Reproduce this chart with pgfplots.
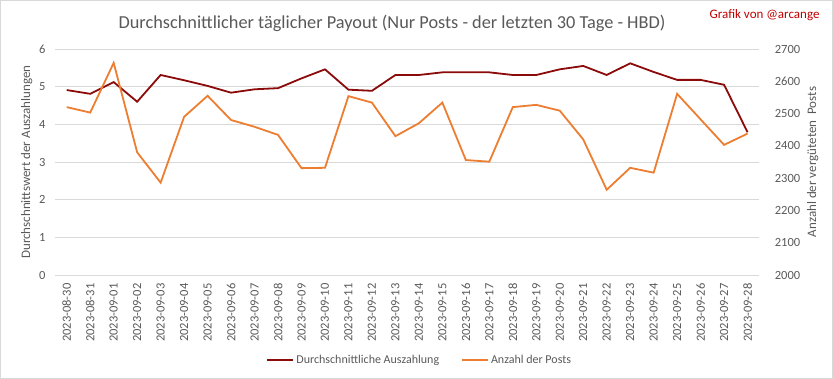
\documentclass[border=0pt]{standalone}
\usepackage{pgfplots}
\pgfplotsset{compat=1.18}
\usepackage{fontspec}
\setmainfont{Carlito}
\definecolor{payout}{HTML}{8B0A0A}
\definecolor{posts}{HTML}{ED7D31}
\definecolor{txt}{HTML}{595959}
\definecolor{gridc}{HTML}{D9D9D9}
\definecolor{redtxt}{HTML}{C00000}

\pgfplotstableread{
i payout posts
0 4.91 2520
1 4.81 2503
2 5.12 2657
3 4.60 2380
4 5.31 2286
5 5.17 2490
6 5.02 2555
7 4.84 2480
8 4.93 2459
9 4.96 2434
10 5.22 2331
11 5.46 2332
12 4.92 2554
13 4.89 2534
14 5.31 2430
15 5.31 2470
16 5.38 2534
17 5.38 2356
18 5.38 2351
19 5.31 2520
20 5.31 2527
21 5.46 2509
22 5.55 2420
23 5.31 2264
24 5.62 2332
25 5.39 2317
26 5.18 2561
27 5.18 2482
28 5.05 2403
29 3.79 2438
}\datatable

\pgfplotsset{
  common/.style={
    at={(55pt,104pt)}, anchor=south west, scale only axis,
    width=704.3pt, height=226pt,
    xmin=-0.5, xmax=29.5,
    major tick length=0pt,
    tick label style={font=\fontsize{12.5}{14}\selectfont, text=txt},
    label style={font=\fontsize{13}{15}\selectfont, text=txt},
    /pgf/number format/assume math mode=true,
    /pgf/number format/1000 sep={},
  }
}

\begin{document}
\begin{tikzpicture}
\draw[draw=gridc, line width=0.8pt] (0.4pt,0.4pt) rectangle (832.6pt,378.6pt);
\begin{axis}[common,
  ymin=0, ymax=6, ytick={0,1,...,6},
  axis x line*=bottom, axis y line*=left,
  x axis line style={draw=gridc, line width=0.8pt},
  y axis line style={draw=none},
  ymajorgrids, grid style={draw=gridc, line width=0.8pt},
  xtick={0,...,29},
  xticklabels={2023-08-30,2023-08-31,2023-09-01,2023-09-02,2023-09-03,2023-09-04,2023-09-05,2023-09-06,2023-09-07,2023-09-08,2023-09-09,2023-09-10,2023-09-11,2023-09-12,2023-09-13,2023-09-14,2023-09-15,2023-09-16,2023-09-17,2023-09-18,2023-09-19,2023-09-20,2023-09-21,2023-09-22,2023-09-23,2023-09-24,2023-09-25,2023-09-26,2023-09-27,2023-09-28},
  x tick label style={rotate=90, anchor=east},
  xticklabel shift=5pt,
  yticklabel shift=6pt,
  ylabel={Durchschnittswert der Auszahlungen},
  ylabel style={at={(axis description cs:-0.040,0.5)}, anchor=center, rotate=0},
]
\addplot[payout, line width=1.8pt] table[x=i, y=payout] {\datatable};
\end{axis}
\begin{axis}[common,
  ymin=2000, ymax=2700, ytick={2000,2100,...,2700},
  axis x line=none, axis y line*=right,
  y axis line style={draw=none},
  xtick=\empty,
  yticklabel shift=12pt,
  ylabel={Anzahl der vergüteten\ \ Posts},
  ylabel style={at={(axis description cs:1.076,0.5)}, anchor=center},
  legend style={at={(axis description cs:0.518,-0.376)}, anchor=center, draw=none, fill=none,
    legend columns=2, font=\fontsize{12}{14}\selectfont, text=txt,
    inner sep=0pt,
    /tikz/every even column/.append style={column sep=20pt}},
  legend image code/.code={\draw[#1] (0pt,0pt) -- (26pt,0pt);},
]
\addlegendimage{payout, line width=1.8pt}
\addlegendentry{Durchschnittliche Auszahlung}
\addplot[posts, line width=1.8pt] table[x=i, y=posts] {\datatable};
\addlegendentry{Anzahl der Posts}
\end{axis}
\node[font=\fontsize{18.3}{22}\selectfont, text=txt] at (392pt,356pt) {Durchschnittlicher täglicher Payout (Nur Posts - der letzten 30 Tage - HBD)};
\node[font=\fontsize{13}{16}\selectfont, text=redtxt, anchor=east] at (823pt,364pt) {Grafik von @arcange};
\end{tikzpicture}
\end{document}
